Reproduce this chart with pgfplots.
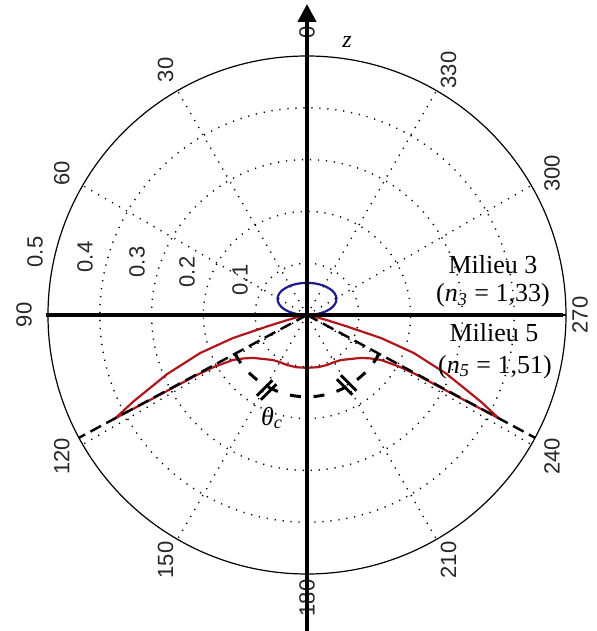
\documentclass[border=0pt]{standalone}
\usepackage{fontspec}
\setmainfont{Liberation Serif}
\newfontfamily\helv{Liberation Sans}
\usepackage{pgfplots}
\pgfplotsset{compat=1.18}
\usepgfplotslibrary{polar}
\usepackage{pgfplotstable}
\usetikzlibrary{arrows.meta,calc}

\definecolor{redcurve}{RGB}{175,22,26}
\definecolor{bluecurve}{RGB}{28,28,140}

% angles as on the chart: 0 = up (z), counter-clockwise
\pgfplotstableread{
t r
-90 0
-85 0.018
-80 0.034
-75 0.047
-70 0.056
-65 0.062
-60 0.0657
-52 0.0678
-45 0.0677
-30 0.0652
-15 0.0629
0 0.062
15 0.0629
30 0.0652
45 0.0677
52 0.0678
60 0.0657
65 0.062
70 0.056
75 0.047
80 0.034
85 0.018
90 0
}\milieutrois

\pgfplotstableread{
t r
90 0
103 0.02
104.5 0.04
106 0.08
107.3 0.150
109.6 0.219
112.9 0.293
116.5 0.375
118.3 0.420
118.4 0.360
118.5 0.300
118.6 0.240
119.2 0.205
121.3 0.167
124.5 0.148
128.5 0.133
135 0.120
142.9 0.109
150 0.105
158 0.104
168 0.103
180 0.102
192 0.103
202 0.104
210 0.105
217.1 0.109
225 0.120
231.5 0.133
235.5 0.148
238.7 0.167
240.8 0.205
241.4 0.240
241.5 0.300
241.6 0.360
241.7 0.420
243.5 0.375
247.1 0.293
250.4 0.219
252.7 0.150
254 0.08
255.5 0.04
257 0.02
270 0
}\milieucinq

\begin{document}
\begin{tikzpicture}
\useasboundingbox (0,0) rectangle (298pt,315.5pt);

% angle labels (rotated as in the original)
\foreach \a in {0,30,...,240,300,330}
  \node[rotate=90, font=\helv\fontsize{11}{13}\selectfont, text=black!85]
    at ($(153.5pt,158pt)+(\a+90:141.5pt)$) {\a};
\node[rotate=90, font=\helv\fontsize{11}{13}\selectfont, text=black!85]
  at (290pt,158pt) {270};

\begin{polaraxis}[
  at={(153.5pt,158pt)}, anchor=origin,
  width=259pt, height=259pt, scale only axis,
  ymin=0, ymax=0.5,
  xtick={0,30,...,330}, ytick={0.1,0.2,0.3,0.4},
  xticklabels={}, yticklabels={},
  major tick length=0pt,
  grid=major,
  major grid style={black, line width=0.7pt, dash pattern=on 0.6pt off 3.4pt},
  axis line style={black, line width=0.6pt},
  x filter/.expression={x+90},
  clip=false,
]
\addplot[bluecurve, line width=1.1pt, smooth] table[x=t, y=r] {\milieutrois};
\addplot[redcurve, line width=1.1pt] table[x=t, y=r] {\milieucinq};
% critical angle directions
\addplot[black, line width=1.2pt, dash pattern=on 6pt off 3pt] coordinates {(118.3,0) (118.3,0.5)};
\addplot[black, line width=1.2pt, dash pattern=on 6pt off 3pt] coordinates {(241.7,0) (241.7,0.5)};
% arc for theta_c
\addplot[black, line width=1.5pt, dash pattern=on 5.5pt off 6.33pt] coordinates {
  (118.3,0.158) (122,0.158) (126,0.158) (130,0.158) (134,0.158) (138,0.158)
  (142,0.158) (146,0.158) (150,0.158) (154,0.158) (158,0.158) (162,0.158)
  (166,0.158) (170,0.158) (174,0.158) (178,0.158) (182,0.158) (186,0.158)
  (190,0.158) (194,0.158) (198,0.158) (202,0.158) (206,0.158) (210,0.158)
  (214,0.158) (218,0.158) (222,0.158) (226,0.158) (230,0.158) (234,0.158)
  (238,0.158) (241.7,0.158)};
\end{polaraxis}

% radial labels
\begin{scope}[every node/.style={rotate=90, font=\helv\fontsize{11}{13}\selectfont, text=black!85}]
\node at (120pt,175.5pt) {0.1};
\node at (93.5pt,179.5pt) {0.2};
\node at (68.5pt,184.5pt) {0.3};
\node at (42.5pt,187pt) {0.4};
\node at (17.5pt,189.5pt) {0.5};
\end{scope}

% equal-angle marks
\begin{scope}[line width=1.4pt]
\draw (133.3pt,120.5pt) ++(-135:5.5pt) ++(135:1.4pt) -- ++(45:11pt);
\draw (133.3pt,120.5pt) ++(-135:5.5pt) ++(-45:1.4pt) -- ++(45:11pt);
\draw (173.3pt,123pt) ++(-45:5.5pt) ++(45:1.4pt) -- ++(135:11pt);
\draw (173.3pt,123pt) ++(-45:5.5pt) ++(-135:1.4pt) -- ++(135:11pt);
\end{scope}

% axes
\draw[line width=2pt] (23pt,158pt) -- (281.5pt,158pt);
\draw[line width=2pt, -{Triangle[length=9pt,width=9pt]}] (153.5pt,-2pt) -- (153.5pt,313.5pt);

% texts
\node[font=\fontsize{12}{14}\selectfont] at (173.5pt,294.5pt) {\textit{z}};
\node[font=\fontsize{13}{15}\selectfont] at (246.5pt,183pt) {Milieu 3};
\node[font=\fontsize{13}{15}\selectfont] at (246.5pt,168pt) {(\textit{n}\textsubscript{\textit{3}} = 1,33)};
\node[font=\fontsize{13}{15}\selectfont] at (247pt,149pt) {Milieu 5};
\node[font=\fontsize{13}{15}\selectfont] at (247.5pt,132pt) {(\textit{n}\textsubscript{\textit{5}} = 1,51)};
\node[font=\fontsize{13}{15}\selectfont] at (136pt,106.5pt) {\textit{θ}\textsubscript{\textit{c}}};
\end{tikzpicture}
\end{document}
